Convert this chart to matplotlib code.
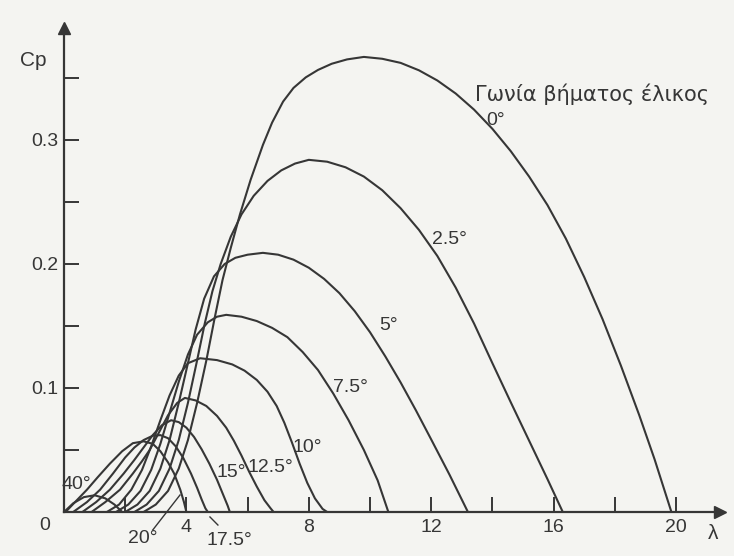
import numpy as np
import matplotlib.pyplot as plt

plt.rcParams['font.family'] = ['Liberation Sans', 'DejaVu Sans']

# power coefficient curves Cp(lambda) for several blade pitch angles
lam_0 = [2.6, 3.0, 3.4, 3.75, 4.05, 4.35, 4.65, 4.92, 5.18, 5.45, 5.75, 6.1, 6.5, 6.8, 7.16,
         7.5, 7.9, 8.3, 8.75, 9.25, 9.8, 10.4, 11.0, 11.6, 12.2, 12.8, 13.4, 14.0, 14.6,
         15.2, 15.8, 16.4, 17.0, 17.6, 18.2, 18.8, 19.3, 19.85]
cp_0 = [0.0, 0.006, 0.017, 0.035, 0.058, 0.088, 0.122, 0.156, 0.187, 0.213, 0.24, 0.268,
        0.296, 0.314, 0.331, 0.342, 0.3505, 0.3565, 0.3615, 0.365, 0.367, 0.3655, 0.3622,
        0.3562, 0.348, 0.3375, 0.3245, 0.309, 0.291, 0.2705, 0.2475, 0.2205, 0.1895,
        0.1555, 0.118, 0.078, 0.0425, 0.0]

lam_25 = [2.3, 2.7, 3.1, 3.45, 3.75, 4.05, 4.33, 4.6, 4.85, 5.12, 5.45, 5.8, 6.2, 6.65, 7.1,
          7.55, 8.0, 8.6, 9.2, 9.8, 10.4, 11.0, 11.6, 12.2, 12.8, 13.4, 14.0, 14.6, 15.2,
          15.8, 16.3]
cp_25 = [0.0, 0.006, 0.017, 0.035, 0.058, 0.088, 0.12, 0.152, 0.178, 0.2, 0.222, 0.24,
         0.255, 0.267, 0.2755, 0.281, 0.284, 0.2825, 0.278, 0.2705, 0.2595, 0.245, 0.2275,
         0.2065, 0.181, 0.152, 0.12, 0.0885, 0.0575, 0.0265, 0.0]

lam_5 = [2.0, 2.4, 2.8, 3.15, 3.45, 3.75, 4.05, 4.3, 4.58, 4.9, 5.25, 5.6, 6.0, 6.5, 7.0,
         7.5, 8.0, 8.5, 9.0, 9.5, 10.0, 10.5, 11.0, 11.5, 12.0, 12.6, 13.2]
cp_5 = [0.0, 0.006, 0.017, 0.035, 0.058, 0.088, 0.12, 0.147, 0.172, 0.19, 0.2, 0.205,
        0.2075, 0.209, 0.2075, 0.2035, 0.197, 0.188, 0.1765, 0.162, 0.145, 0.1255, 0.1045,
        0.082, 0.0585, 0.03, 0.0]

lam_75 = [1.7, 2.1, 2.5, 2.85, 3.15, 3.45, 3.75, 4.05, 4.35, 4.7, 5.0, 5.3, 5.8, 6.3, 6.8,
          7.3, 7.8, 8.3, 8.8, 9.3, 9.8, 10.25, 10.6]
cp_75 = [0.0, 0.006, 0.017, 0.034, 0.055, 0.08, 0.105, 0.127, 0.143, 0.153, 0.1575, 0.159,
         0.1575, 0.154, 0.1485, 0.141, 0.129, 0.1145, 0.0955, 0.074, 0.05, 0.0255, 0.0]

lam_10 = [1.4, 1.8, 2.2, 2.55, 2.85, 3.15, 3.45, 3.75, 4.05, 4.45, 5.0, 5.5, 5.9, 6.3, 6.65,
          6.95, 7.2, 7.45, 7.7, 7.95, 8.2, 8.45, 8.6]
cp_10 = [0.0, 0.006, 0.018, 0.034, 0.053, 0.074, 0.094, 0.11, 0.12, 0.124, 0.1225, 0.119,
         0.114, 0.1065, 0.097, 0.0855, 0.072, 0.056, 0.039, 0.0235, 0.011, 0.0025, 0.0]

lam_125 = [0.9, 1.35, 1.83, 2.25, 2.55, 2.8, 3.1, 3.4, 3.7, 3.95, 4.3, 4.65, 5.0, 5.3, 5.55,
           5.8, 6.05, 6.3, 6.55, 6.75, 6.85]
cp_125 = [0.0, 0.008, 0.018, 0.031, 0.041, 0.05, 0.064, 0.078, 0.088, 0.092, 0.09, 0.0855,
          0.0775, 0.068, 0.0575, 0.0455, 0.0325, 0.0205, 0.0095, 0.003, 0.0]

lam_15 = [0.6, 1.05, 1.5, 1.95, 2.3, 2.6, 2.9, 3.2, 3.5, 3.75, 4.0, 4.25, 4.5, 4.75, 5.0,
          5.2, 5.35, 5.42]
cp_15 = [0.0, 0.008, 0.018, 0.031, 0.042, 0.052, 0.062, 0.07, 0.074, 0.0725, 0.068, 0.0605,
         0.0505, 0.039, 0.026, 0.014, 0.005, 0.0]

lam_175 = [0.3, 0.75, 1.18, 1.6, 2.0, 2.3, 2.6, 2.9, 3.15, 3.4, 3.65, 3.9, 4.15, 4.35, 4.5,
           4.62, 4.7]
cp_175 = [0.0, 0.008, 0.018, 0.031, 0.044, 0.052, 0.058, 0.0615, 0.062, 0.0595, 0.053,
          0.0435, 0.031, 0.0195, 0.01, 0.003, 0.0]

lam_20 = [0.05, 0.4, 0.75, 1.1, 1.5, 1.9, 2.25, 2.6, 2.9, 3.15, 3.4, 3.6, 3.8, 3.92, 4.0]
cp_20 = [0.0, 0.009, 0.018, 0.028, 0.039, 0.049, 0.0555, 0.057, 0.055, 0.049, 0.04, 0.031,
         0.018, 0.008, 0.0]

lam_40 = [0.0, 0.3, 0.65, 1.0, 1.35, 1.65, 1.9]
cp_40 = [0.0, 0.007, 0.012, 0.0135, 0.011, 0.006, 0.0]

curves = [(lam_0, cp_0), (lam_25, cp_25), (lam_5, cp_5), (lam_75, cp_75),
          (lam_10, cp_10), (lam_125, cp_125), (lam_15, cp_15), (lam_175, cp_175),
          (lam_20, cp_20), (lam_40, cp_40)]

# pitch angle labels (text, lambda, Cp)
angle_labels = [("0°", 14.1, 0.316), ("2.5°", 12.6, 0.22), ("5°", 10.6, 0.15),
                ("7.5°", 9.35, 0.100), ("10°", 7.95, 0.0524), ("12.5°", 6.75, 0.0355),
                ("15°", 5.45, 0.032), ("40°", 0.39, 0.0218)]

ink = '#363636'
paper = '#f4f4f1'

fig = plt.figure(figsize=(7.34, 5.56), dpi=100, facecolor=paper)
ax = fig.add_axes([0, 0, 1, 1], facecolor=paper)
ax.set_xlim(-64 / 30.6, 670 / 30.6)
ax.set_ylim(-44 / 1240, 512 / 1240)

for lam, cp in curves:
    ax.plot(lam, cp, color=ink, lw=1.5, solid_joinstyle='round', solid_capstyle='round')

# axes drawn through the origin, with arrow heads
for side in ['top', 'right']:
    ax.spines[side].set_visible(False)
ax.spines['left'].set_position(('data', 0))
ax.spines['bottom'].set_position(('data', 0))
ax.spines['left'].set_bounds(0, 0.388)
ax.spines['bottom'].set_bounds(0, 21.4)
for side in ['left', 'bottom']:
    ax.spines[side].set_color(ink)
    ax.spines[side].set_linewidth(1.6)
ax.plot(21.45, 0, marker='>', color=ink, ms=8, clip_on=False)
ax.plot(0, 0.39, marker='^', color=ink, ms=8, clip_on=False)

xt = np.arange(2, 21, 2)
ax.set_xticks(xt)
ax.set_xticklabels([str(v) if v % 4 == 0 else '' for v in xt])
yt = np.round(np.arange(0.05, 0.36, 0.05), 2)
ax.set_yticks(yt)
ax.set_yticklabels([f'{v:.1f}' if round(v * 10) == v * 10 else '' for v in yt])
ax.tick_params(axis='both', direction='in', length=11, width=1.4, color=ink,
               labelsize=14, labelcolor=ink)
ax.tick_params(axis='x', pad=5)
ax.tick_params(axis='y', pad=4)

ax.text(-0.62, -0.0105, '0', fontsize=14, color=ink, ha='center', va='center')
ax.text(-1.01, 0.3645, 'Cp', fontsize=15, color=ink, ha='center', va='center')
ax.text(21.2, -0.017, 'λ', fontsize=15, color=ink, ha='center', va='center')
ax.text(17.25, 0.337, 'Γωνία βήματος έλικος', fontsize=15, color=ink,
        ha='center', va='center', family='DejaVu Sans')

for txt, x, y in angle_labels:
    ax.text(x, y, txt, fontsize=14, color=ink, ha='center', va='center')

# labels below the axis with short leader lines
ax.text(2.58, -0.021, '20°', fontsize=14, color=ink, ha='center', va='center')
ax.plot([2.9, 3.79], [-0.0145, 0.0137], color=ink, lw=1.0, clip_on=False)
ax.text(5.42, -0.0226, '17.5°', fontsize=14, color=ink, ha='center', va='center')
ax.plot([5.03, 4.77], [-0.0105, -0.004], color=ink, lw=1.0, clip_on=False)

fig.savefig('out.png', dpi=100, facecolor=paper)
